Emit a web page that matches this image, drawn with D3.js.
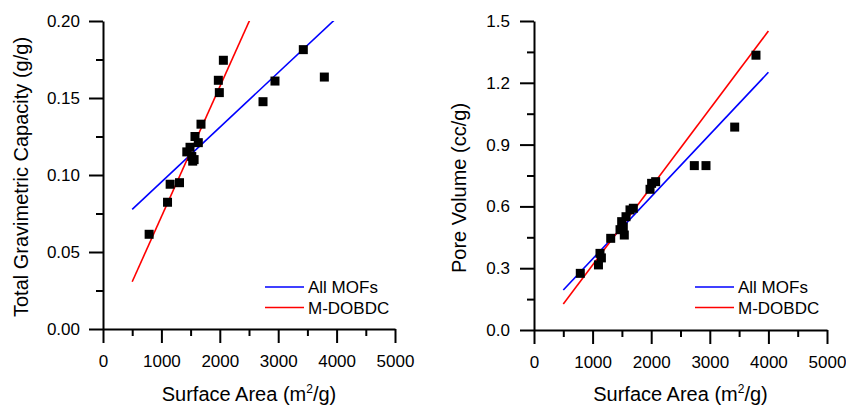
<!DOCTYPE html>
<html>
<head>
<meta charset="utf-8">
<script src="https://cdn.jsdelivr.net/npm/d3@7"></script>
<style>
  body { margin: 0; background: #fff; }
  svg { font-family: "Liberation Sans", Arial, sans-serif; }
  .axis .domain, .axis line { stroke: #000; stroke-width: 2; }
  .axis text { font-size: 17px; fill: #000; }
</style>
</head>
<body>
<div id="chart"></div>
<script>
// left panel: total gravimetric capacity vs surface area
const gravSurface = [790, 1105, 1150, 1310, 1435, 1490, 1520, 1536, 1560, 1575, 1632, 1678, 1975, 1992, 2061, 2740, 2945, 3430, 3790];
const gravCapacity = [0.0615, 0.0823, 0.094, 0.095, 0.115, 0.118, 0.112, 0.109, 0.110, 0.125, 0.121, 0.133, 0.1615, 0.1535, 0.1745, 0.1476, 0.161, 0.1814, 0.1636];

// right panel: pore volume vs surface area
const poreSurface = [790, 1100, 1126, 1150, 1309, 1468, 1496, 1524, 1541, 1570, 1638, 1695, 1980, 2007, 2076, 2736, 2935, 3425, 3788];
const poreVolume = [0.275, 0.316, 0.372, 0.35, 0.445, 0.487, 0.526, 0.50, 0.461, 0.55, 0.583, 0.591, 0.683, 0.712, 0.72, 0.798, 0.798, 0.985, 1.334];

// fitted lines, evaluated at the ends of the fit range
const fitRange = [500, 4000];
const gravFitAll = [0.0777, 0.2020];
const gravFitDobdc = [0.0307, 0.3262];
const poreFitAll = [0.194, 1.251];
const poreFitDobdc = [0.126, 1.451];

const xTicks = [0, 1000, 2000, 3000, 4000, 5000];
const gravTicks = [0, 0.05, 0.10, 0.15, 0.20];
const poreTicks = [0, 0.3, 0.6, 0.9, 1.2, 1.5];

const legendNames = ["All MOFs", "M-DOBDC"];
const lineColors = ["#0000ff", "#ff0000"];

const width = 846, height = 410;
const svg = d3.select("#chart").append("svg")
  .attr("width", width).attr("height", height);

function drawPanel(id, opts) {
  const x = d3.scaleLinear().domain([0, 5000]).range(opts.xRange);
  const y = d3.scaleLinear().domain(opts.yDomain).range(opts.yRange);
  const g = svg.append("g").attr("id", id);

  // clip fits to plot area
  g.append("clipPath").attr("id", id + "-clip")
    .append("rect")
    .attr("x", opts.xRange[0]).attr("y", opts.yRange[1])
    .attr("width", opts.xRange[1] - opts.xRange[0])
    .attr("height", opts.yRange[0] - opts.yRange[1]);

  // minor ticks first
  g.append("g").attr("class", "axis")
    .attr("transform", "translate(0," + opts.yRange[0] + ")")
    .call(d3.axisBottom(x).tickValues(d3.range(500, 5000, 1000)).tickSize(7).tickFormat(""))
    .select(".domain").remove();
  g.append("g").attr("class", "axis")
    .attr("transform", "translate(" + opts.xRange[0] + ",0)")
    .call(d3.axisLeft(y).tickValues(opts.yMinor).tickSize(7).tickFormat(""))
    .select(".domain").remove();

  g.append("g").attr("class", "axis")
    .attr("transform", "translate(0," + opts.yRange[0] + ")")
    .call(d3.axisBottom(x).tickValues(xTicks).tickSize(14).tickSizeOuter(0).tickPadding(12).tickFormat(d3.format("d")));
  g.append("g").attr("class", "axis")
    .attr("transform", "translate(" + opts.xRange[0] + ",0)")
    .call(d3.axisLeft(y).tickValues(opts.yTicks).tickSize(14).tickSizeOuter(0).tickPadding(opts.yPad).tickFormat(d3.format(opts.yFormat)));

  // fit lines
  const line = d3.line().x(d => x(d[0])).y(d => y(d[1]));
  opts.fits.forEach((f, i) => {
    g.append("path")
      .datum(fitRange.map((v, j) => [v, f[j]]))
      .attr("clip-path", "url(#" + id + "-clip)")
      .attr("fill", "none")
      .attr("stroke", lineColors[i])
      .attr("stroke-width", 1.6)
      .attr("d", line);
  });

  // data squares
  g.selectAll(".pt")
    .data(opts.xs.map((v, i) => [v, opts.ys[i]]))
    .enter().append("rect")
    .attr("class", "pt")
    .attr("x", d => x(d[0]) - 4.5)
    .attr("y", d => y(d[1]) - 4.5)
    .attr("width", 9).attr("height", 9)
    .attr("fill", "#000");

  // legend
  const lg = g.append("g").attr("transform", "translate(" + opts.legendX + ",287)");
  legendNames.forEach((n, i) => {
    lg.append("line")
      .attr("x1", 0).attr("x2", 39)
      .attr("y1", i * 20.5).attr("y2", i * 20.5)
      .attr("stroke", lineColors[i]).attr("stroke-width", 1.6);
    lg.append("text")
      .attr("x", 43).attr("y", i * 20.5).attr("dy", "0.36em")
      .style("font-size", "17px")
      .text(n);
  });

  // axis titles
  const xt = g.append("text")
    .attr("x", (opts.xRange[0] + opts.xRange[1]) / 2).attr("y", 401)
    .attr("text-anchor", "middle")
    .style("font-size", "20px");
  xt.append("tspan").text("Surface Area (m");
  xt.append("tspan").attr("dy", "-8").style("font-size", "12px").text("2");
  xt.append("tspan").attr("dy", "8").text("/g)");

  g.append("text")
    .attr("transform", "translate(" + opts.yTitleX + "," + opts.yTitleY + ") rotate(-90)")
    .attr("text-anchor", "middle")
    .style("font-size", "20px")
    .text(opts.yTitle);
}

drawPanel("grav", {
  xRange: [103, 395], yRange: [329, 21], yDomain: [0, 0.2],
  yTicks: gravTicks, yMinor: [0.025, 0.075, 0.125, 0.175], yFormat: ".2f", yPad: 9,
  xs: gravSurface, ys: gravCapacity, fits: [gravFitAll, gravFitDobdc],
  legendX: 265, yTitle: "Total Gravimetric Capacity (g/g)", yTitleX: 28, yTitleY: 177
});

drawPanel("pore", {
  xRange: [534, 827], yRange: [330, 21], yDomain: [0, 1.5],
  yTicks: poreTicks, yMinor: [0.15, 0.45, 0.75, 1.05, 1.35], yFormat: ".1f", yPad: 10,
  xs: poreSurface, ys: poreVolume, fits: [poreFitAll, poreFitDobdc],
  legendX: 695, yTitle: "Pore Volume (cc/g)", yTitleX: 466, yTitleY: 188
});
</script>
</body>
</html>
